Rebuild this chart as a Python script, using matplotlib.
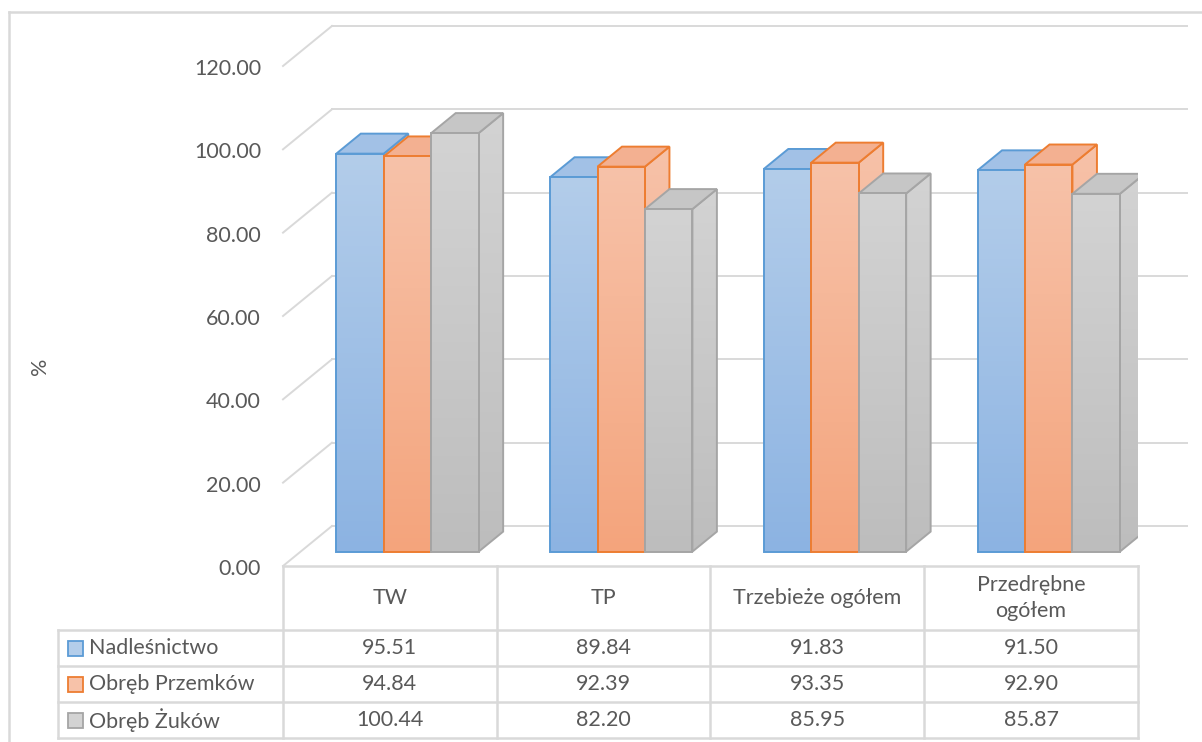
import numpy as np
import matplotlib
matplotlib.use("Agg")
from matplotlib import pyplot as plt
from matplotlib.patches import Polygon
from matplotlib.colors import to_rgb
from matplotlib.transforms import offset_copy

plt.rcParams["font.family"] = ["Lato", "DejaVu Sans"]

categories = ["TW", "TP", "Trzebieże ogółem", "Przedrębne\nogółem"]
series = ["Nadleśnictwo", "Obręb Przemków", "Obręb Żuków"]
nadlesnictwo = [95.51, 89.84, 91.83, 91.50]
przemkow = [94.84, 92.39, 93.35, 92.90]
zukow = [100.44, 82.20, 85.95, 85.87]
y_ticks = [0, 20, 40, 60, 80, 100, 120]

values = [nadlesnictwo, przemkow, zukow]
# (front top, front bottom, top face, edge)
styles = [
    ("#b3cdea", "#8cb3e2", "#a2c1e6", "#5b9bd5"),
    ("#f7c2a9", "#f4a47c", "#f3b091", "#ed7d31"),
    ("#d3d3d3", "#bdbdbd", "#c6c6c6", "#a5a5a5"),
]
text_c = "#595959"
grid_c = "#d9d9d9"
fs = 15.5

W, H = 1202, 742
fig = plt.figure(figsize=(W / 100, H / 100), dpi=100)

# outer frame
fig.add_artist(plt.Line2D([9 / W, 9 / W], [0, 1 - 12 / H], color=grid_c, lw=1.8))
fig.add_artist(plt.Line2D([9 / W, 1], [1 - 12 / H, 1 - 12 / H], color=grid_c, lw=1.8))

# front plane of the 3d box
ax = fig.add_axes([283 / W, (H - 566) / H, 855 / W, 500 / H])
ax.set_xlim(0, 4)
ax.set_ylim(0, 120)
ax.axis("off")

DX, DY = 49 / 214, 40 / (500 / 120)  # full depth offset in data units


def depth(x, y, f):
    return x + f * DX, y + f * DY


# walls
for v in y_ticks:
    x0, y0 = depth(0, v, 1)
    ax.plot([0, x0], [v, y0], color=grid_c, lw=1.4, clip_on=False, zorder=1)
    ax.plot([x0, 4 + DX], [y0, y0], color=grid_c, lw=1.4, clip_on=False, zorder=1)
    ax.text(0, v, f"{v:.2f}", ha="right", va="center", fontsize=fs, color=text_c,
            transform=offset_copy(ax.transData, fig, x=-22, y=-3, units="dots"))

fig.text(40 / W, 1 - 366 / H, "%", rotation=90, ha="center", va="center",
         fontsize=fs, color=text_c)


def gradient(poly_xy, c_top, c_bot, z):
    xs, ys = poly_xy[:, 0], poly_xy[:, 1]
    t = np.linspace(0, 1, 256)[:, None]
    a, b = np.array(to_rgb(c_top)), np.array(to_rgb(c_bot))
    img = (a * (1 - t) + b * t)[:, None, :]
    im = ax.imshow(img, extent=(xs.min(), xs.max(), ys.min(), ys.max()),
                   aspect="auto", origin="upper", zorder=z, interpolation="bilinear")
    clip = Polygon(poly_xy, closed=True, transform=ax.transData)
    im.set_clip_path(clip)


f0, f1 = 0.36, 0.86
bw = 0.222
off = (1 - 3 * bw) / 2
z = 2
for i in range(len(categories)):
    for j, vals in enumerate(values):
        c_top, c_bot, c_face, c_edge = styles[j]
        xl = i + off + j * bw
        xr = xl + bw
        v = vals[i]
        fl_b = depth(xl, 0, f0)
        fr_b = depth(xr, 0, f0)
        fl_t = depth(xl, v, f0)
        fr_t = depth(xr, v, f0)
        br_b = depth(xr, 0, f1)
        br_t = depth(xr, v, f1)
        bl_t = depth(xl, v, f1)
        side = np.array([fr_b, br_b, br_t, fr_t])
        top = np.array([fl_t, fr_t, br_t, bl_t])
        front = np.array([fl_b, fr_b, fr_t, fl_t])
        gradient(side, c_top, c_bot, z)
        ax.add_patch(Polygon(side, closed=True, fc="none", ec=c_edge, lw=1.4,
                             joinstyle="miter", zorder=z + 0.1))
        ax.add_patch(Polygon(top, closed=True, fc=c_face, ec=c_edge, lw=1.4,
                             joinstyle="miter", zorder=z + 0.2))
        gradient(front, c_top, c_bot, z + 0.3)
        ax.add_patch(Polygon(front, closed=True, fc="none", ec=c_edge, lw=1.4,
                             joinstyle="miter", zorder=z + 0.4))
        z += 1
ax.set_xlim(0, 4)
ax.set_ylim(0, 120)

# data table
tb = fig.add_axes([58 / W, (H - 738) / H, 1080 / W, 172 / H])
tb.set_xlim(-225 / 214, 4)
tb.set_ylim(172, 0)
tb.axis("off")
rows = [0, 64, 100, 136, 172]
lk = dict(color=grid_c, lw=1.8, clip_on=False, solid_capstyle="projecting")
tb.plot([0, 4], [0, 0], **lk)
for r in rows[1:]:
    tb.plot([-225 / 214, 4], [r, r], **lk)
for c in range(5):
    tb.plot([c, c], [0, 172], **lk)
tb.plot([-225 / 214, -225 / 214], [64, 172], **lk)

for i, cat in enumerate(categories):
    tb.text(i + 0.5, 32, cat, ha="center", va="center", fontsize=fs,
            color=text_c, linespacing=1.35)
for j, (name, vals) in enumerate(zip(series, values)):
    yc = (rows[j + 1] + rows[j + 2]) / 2
    c_top, c_bot, c_face, c_edge = styles[j]
    tb.add_patch(plt.Rectangle((-215 / 214, yc - 7.5), 15 / 214, 15,
                               fc=c_top, ec=c_edge, lw=1.3, clip_on=False))
    tb.text(-194 / 214, yc, name, ha="left", va="center", fontsize=fs, color=text_c)
    for i, v in enumerate(vals):
        tb.text(i + 0.5, yc, f"{v:.2f}", ha="center", va="center", fontsize=fs,
                color=text_c)

fig.savefig("out.png", dpi=100, facecolor="white")
